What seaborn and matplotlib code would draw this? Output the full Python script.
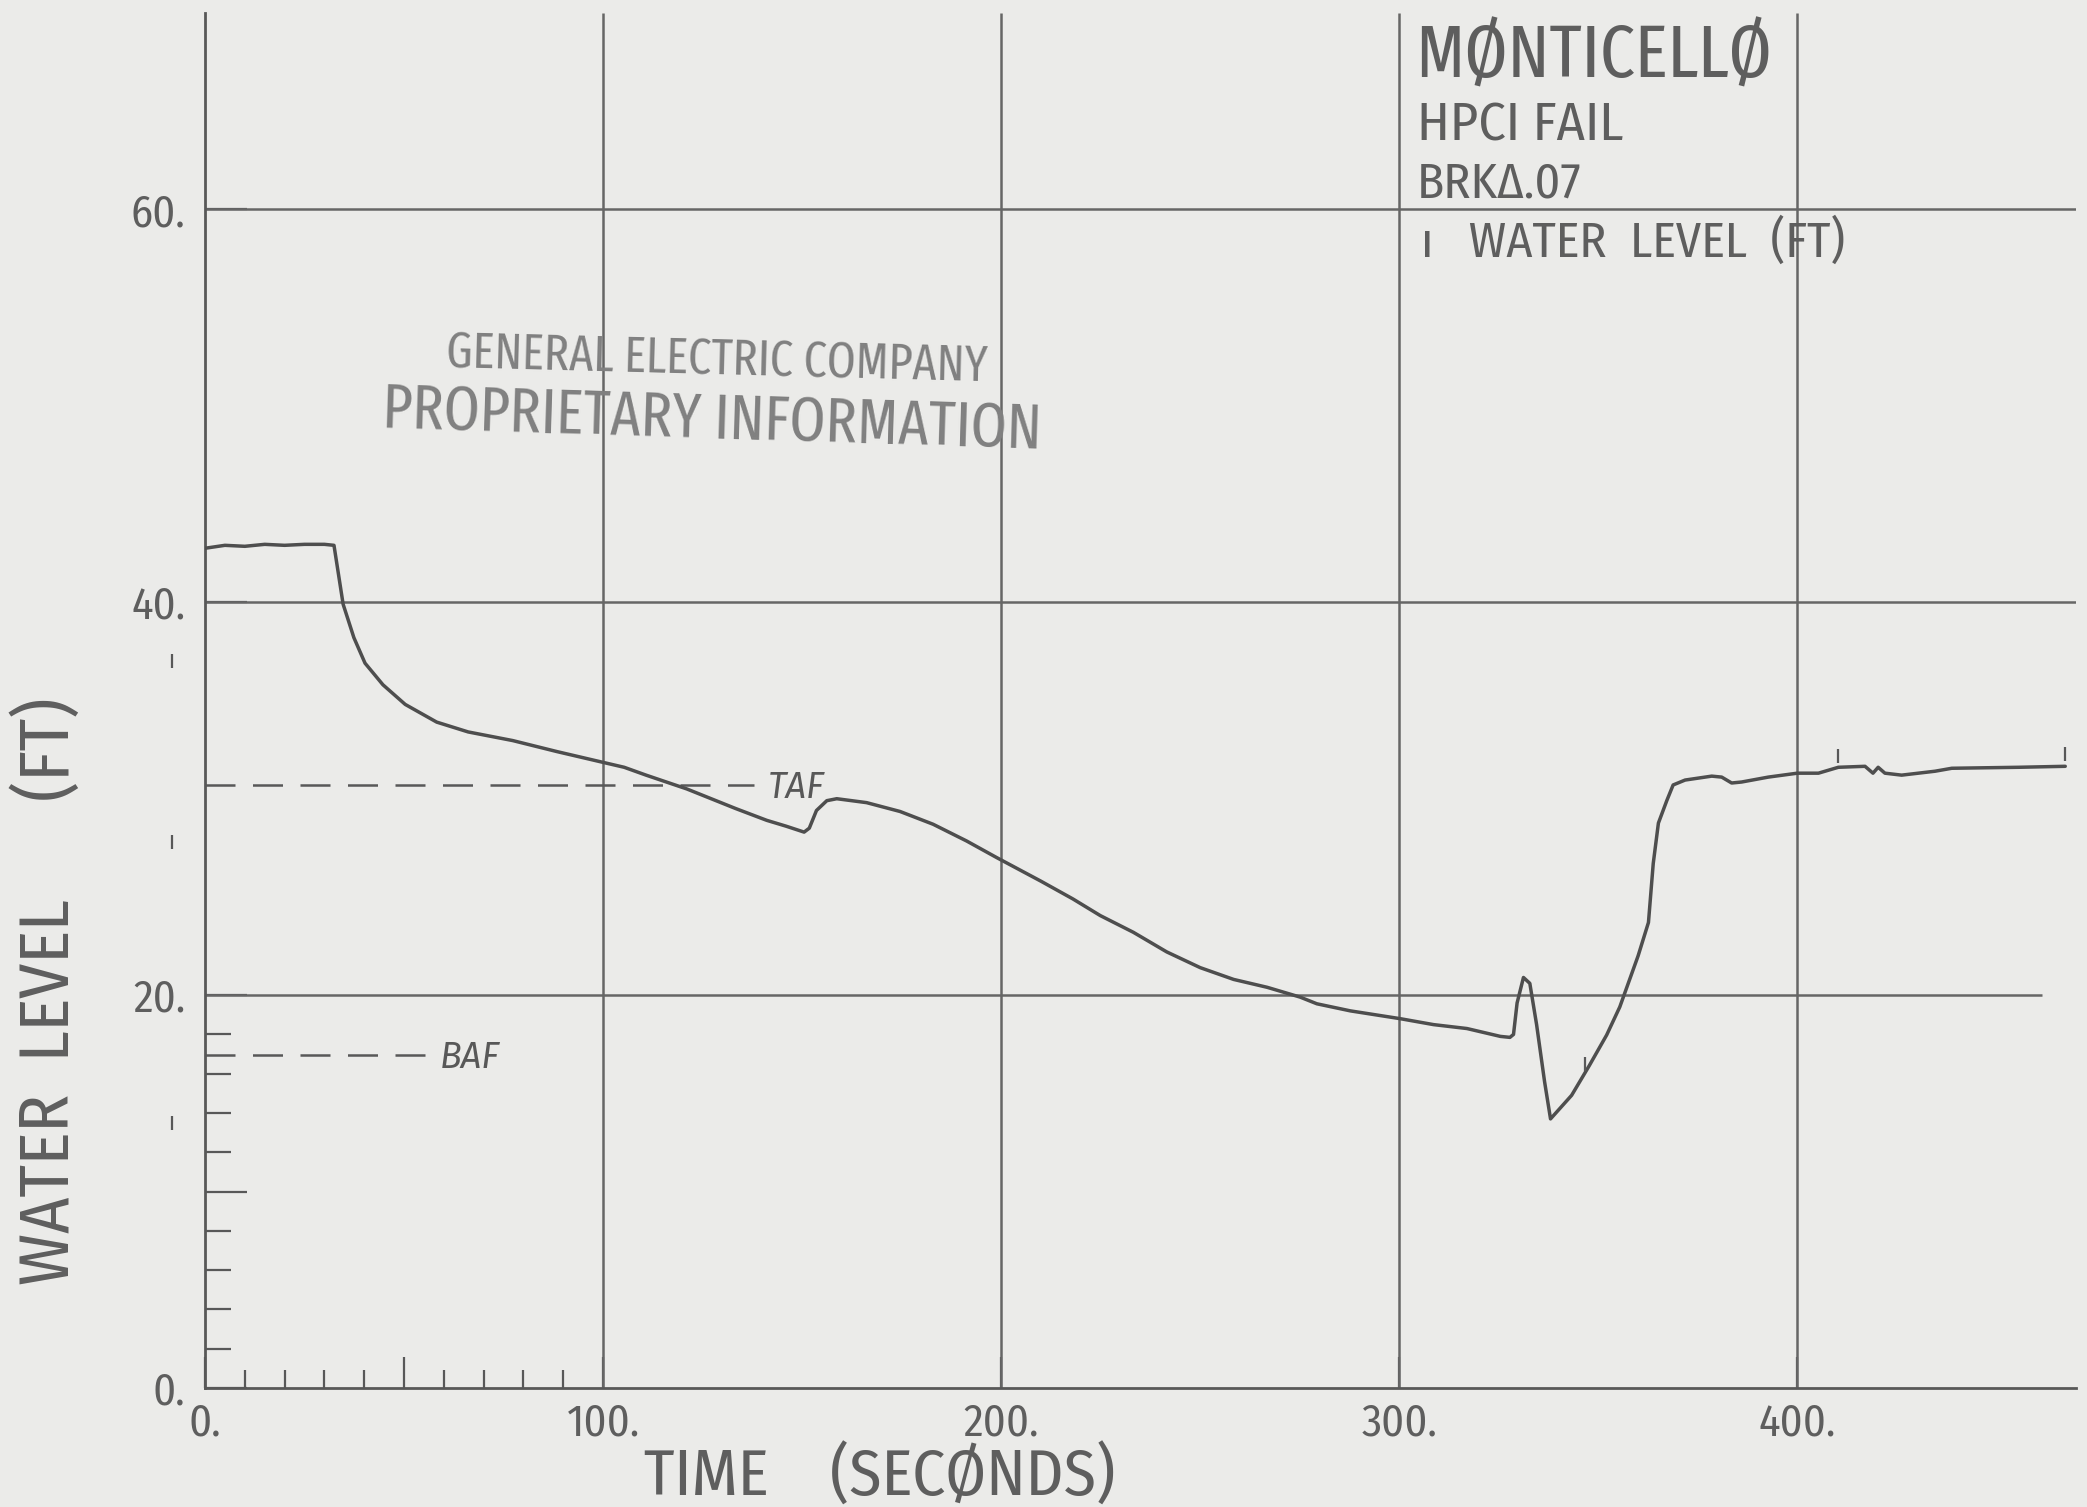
import os
import numpy as np
import pandas as pd
import matplotlib
matplotlib.use("Agg")
import matplotlib.pyplot as plt
import matplotlib.font_manager as fm
import seaborn as sns

# ---------------- data ----------------
time_s = [0, 5, 10, 15, 20, 25, 30, 32.4, 34.7, 37.4, 40.2, 44.7, 50.3, 58.2,
          66.1, 77.3, 88.4, 100, 105.3, 110.8, 121, 133.3, 141.1, 146.0, 150.5,
          151.8, 153.6, 156.2, 158.7, 166.2, 174.6, 182.9, 191.3, 198.9, 210,
          218, 224.9, 233.2, 241.6, 250, 258.4, 266.8, 275.1, 279.3, 287.7,
          300.3, 308.6, 317, 325.4, 327.8, 328.7, 329.6, 331.2, 332.8, 334.5,
          336.5, 338.0, 343.3, 347.7, 352.1, 355.4, 360, 362.6, 363.8, 365.1,
          367.2, 368.8, 371.8, 378.5, 381, 383.5, 386, 392.7, 400, 405.3,
          410.3, 417, 419, 420.3, 422, 426.2, 434.6, 438.8, 455.5, 467.3]
level_ft = [42.75, 42.9, 42.85, 42.95, 42.9, 42.95, 42.95, 42.9, 39.9, 38.2,
            36.9, 35.8, 34.8, 33.9, 33.4, 32.96, 32.4, 31.85, 31.6, 31.2,
            30.5, 29.5, 28.9, 28.6, 28.3, 28.5, 29.4, 29.9, 30.0, 29.8, 29.35,
            28.7, 27.85, 27.0, 25.8, 24.9, 24.05, 23.2, 22.2, 21.4, 20.8,
            20.4, 19.9, 19.56, 19.2, 18.8, 18.5, 18.3, 17.9, 17.85, 18.0,
            19.6, 20.9, 20.6, 18.5, 15.6, 13.7, 14.9, 16.4, 17.97, 19.4,
            22.0, 23.7, 26.7, 28.76, 29.9, 30.7, 30.95, 31.15, 31.1, 30.8,
            30.85, 31.1, 31.3, 31.3, 31.6, 31.65, 31.3, 31.6, 31.3, 31.2,
            31.4, 31.55, 31.6, 31.65]

taf_level, taf_end = 30.7, 137.8
baf_level, baf_end = 16.95, 56.5

x_major = [0, 50, 100, 200, 300, 400]
x_major_labels = ["0.", "", "100.", "200.", "300.", "400."]
x_minor = [10, 20, 30, 40, 60, 70, 80, 90]
y_major = [0, 10, 20, 40, 60]
y_major_labels = ["0.", "", "20.", "40.", "60."]
y_minor = [2, 4, 6, 8, 12, 14, 16, 18]

grid_x = [100, 200, 300, 400]
grid_y = [20, 40, 60]
grid_y_end = [461.5, 470, 470]

marker_t = [-8.4, -8.4, -8.4, 346.6, 410.3, 467.3]
marker_l = [37.0, 27.8, 13.5, 16.5, 32.2, 32.3]

# ---------------- fonts ----------------
all_files = sorted({f.fname for f in fm.fontManager.ttflist})
by_base = {os.path.basename(f).lower(): f for f in all_files}

def pick(names):
    for n in names:
        if n.lower() in by_base:
            return by_base[n.lower()]
    return None

F_XCOND = pick(["FiraSansExtraCondensed-Regular.ttf", "FiraSansCondensed-Regular.ttf",
                "NotoSans-ExtraCondensed.ttf", "DejaVuSansCondensed.ttf"])
F_COND = pick(["FiraSansCondensed-Regular.ttf", "FiraSansExtraCondensed-Regular.ttf",
               "NotoSans-Condensed.ttf", "DejaVuSansCondensed.ttf"])
F_ITAL = pick(["FiraSans-Italic.ttf", "FiraSansCondensed-Italic.ttf",
               "FiraSansExtraCondensed-Italic.ttf", "DejaVuSans-Oblique.ttf"])

def fp(size, kind="cond"):
    f = {"cond": F_COND, "xcond": F_XCOND, "ital": F_ITAL}[kind]
    if f:
        p = fm.FontProperties(fname=f)
    else:
        p = fm.FontProperties(family="DejaVu Sans",
                              style="italic" if kind == "ital" else "normal")
    p.set_size(size)
    return p

# ---------------- style ----------------
bg = "#ebebe9"
ink = "#585858"
grid_c = "#666666"
txt_c = "#5e5e5e"
stamp_c = "#808080"

sns.set_theme(style="white", rc={"axes.facecolor": bg, "figure.facecolor": bg})

fig = plt.figure(figsize=(20.87, 15.07), dpi=100)
ax = fig.add_axes([205 / 2087, (1507 - 1388) / 1507, (2076 - 205) / 2087, (1388 - 13) / 1507])
ax.set_facecolor(bg)

df = pd.DataFrame({"time": time_s, "level": level_ft})

# grid
ax.vlines(grid_x, 0, 70, colors=grid_c, lw=1.8, zorder=1)
ax.hlines(grid_y, 0, grid_y_end, colors=grid_c, lw=1.8, zorder=1)

# TAF / BAF
ax.hlines(taf_level, 0, taf_end, colors=ink, lw=1.8, linestyles=[(0, (12, 7))], zorder=2)
ax.hlines(baf_level, 0, baf_end, colors=ink, lw=1.8, linestyles=[(0, (12, 7))], zorder=2)
ax.text(taf_end + 3.5, taf_level - 0.65, "TAF", fontproperties=fp(26, "ital"), color=ink,
        ha="left", va="baseline")
ax.text(baf_end + 2.5, baf_level - 0.65, "BAF", fontproperties=fp(26, "ital"), color=ink,
        ha="left", va="baseline")

# curve
sns.lineplot(data=df, x="time", y="level", ax=ax, color="#4e4e4e", linewidth=2.5,
             estimator=None, sort=False, zorder=3)

# plot symbols
ax.scatter(marker_t, marker_l, marker="|", s=110, linewidths=1.6, color=ink,
           clip_on=False, zorder=4)

ax.set_xlim(0, 470)
ax.set_ylim(0, 70)

for s in ["top", "right"]:
    ax.spines[s].set_visible(False)
for s in ["left", "bottom"]:
    ax.spines[s].set_color(ink)
    ax.spines[s].set_linewidth(2.0)

# ticks
ax.set_xticks(x_major)
ax.set_xticks(x_minor, minor=True)
ax.set_yticks(y_major)
ax.set_yticks(y_minor, minor=True)
ax.set_xticklabels(x_major_labels)
ax.set_yticklabels(y_major_labels)
ax.tick_params(which="both", bottom=True, left=True, top=False, right=False)
ax.tick_params(axis="x", which="major", direction="in", length=22, width=1.6, color=ink, pad=10)
ax.tick_params(axis="x", which="minor", direction="in", length=13, width=1.6, color=ink)
ax.tick_params(axis="y", which="major", direction="in", length=30, width=1.6, color=ink, pad=14)
ax.tick_params(axis="y", which="minor", direction="in", length=19, width=1.6, color=ink)
for lab in ax.get_xticklabels() + ax.get_yticklabels():
    lab.set_fontproperties(fp(32, "cond"))
    lab.set_color(txt_c)

ax.set_xlabel("")
ax.set_ylabel("")

# axis titles
fig.text(0.4217, 0.0072, "TIME    (SECØNDS)", fontproperties=fp(47, "cond"), color=txt_c,
         ha="center", va="baseline")
fig.text(0.0235, 0.342, "WATER  LEVEL      (FT)", fontproperties=fp(50, "cond"), color=txt_c,
         ha="center", va="center", rotation=90)

# title block
ax.text(304.0, 66.7, "MØNTICELLØ", fontproperties=fp(54, "xcond"), color=txt_c,
        ha="left", va="baseline")
ax.text(304.5, 63.5, "HPCI FAIL", fontproperties=fp(39, "cond"), color=txt_c,
        ha="left", va="baseline")
ax.text(304.5, 60.6, "BRKΔ.07", fontproperties=fp(36, "cond"), color=txt_c,
        ha="left", va="baseline")
ax.text(305.5, 57.6, "ı   WATER  LEVEL  (FT)", fontproperties=fp(36, "cond"), color=txt_c,
        ha="left", va="baseline")

# proprietary stamp
ax.text(128.6, 52.3, "GENERAL ELECTRIC COMPANY", fontproperties=fp(36, "xcond"), color=stamp_c,
        ha="center", va="center", rotation=-1.5)
ax.text(127.4, 49.2, "PROPRIETARY INFORMATION", fontproperties=fp(45, "xcond"), color=stamp_c,
        ha="center", va="center", rotation=-1.8)

fig.savefig("out.png", dpi=100, facecolor=bg)
